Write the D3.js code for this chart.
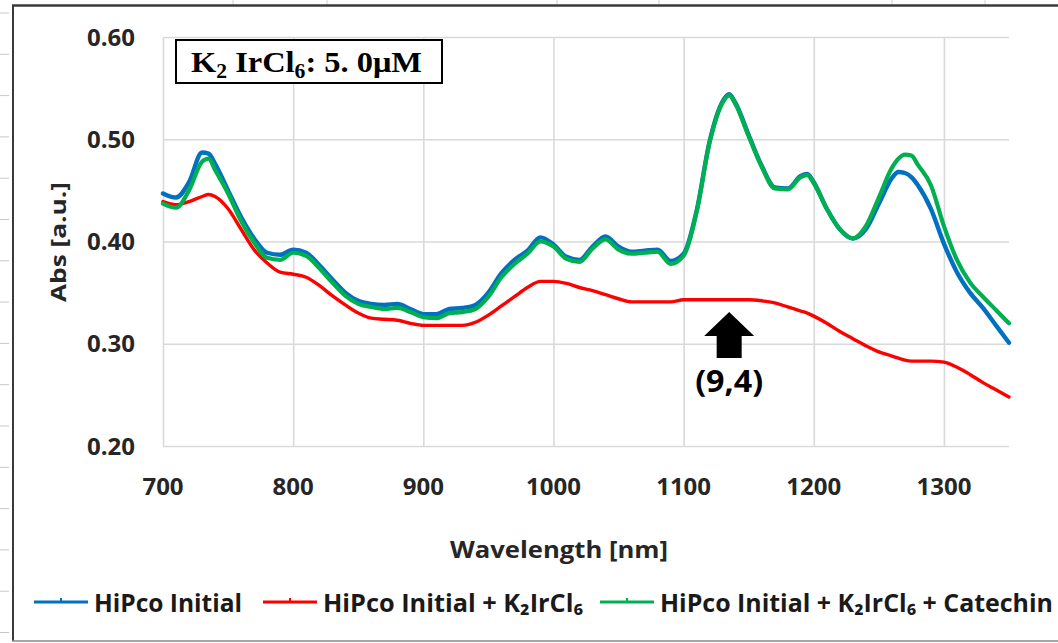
<!DOCTYPE html>
<html><head><meta charset="utf-8">
<script src="https://cdn.jsdelivr.net/npm/d3@7"></script>
<style>body{margin:0;background:#fff}svg{display:block}</style>
</head><body>
<svg id="c" width="1058" height="643"></svg>
<script>
const wavelength = [700,710,720,730,735,740,750,760,770,780,790,800,810,820,830,840,850,860,870,880,890,900,910,920,930,940,950,960,970,980,990,1000,1010,1020,1030,1040,1050,1060,1070,1080,1090,1100,1110,1120,1130,1135,1140,1150,1160,1170,1180,1190,1195,1200,1210,1220,1230,1240,1250,1260,1265,1270,1275,1280,1290,1300,1310,1320,1330,1340,1350];
const hipcoInitial = [0.447,0.443,0.458,0.487,0.486,0.476,0.450,0.424,0.403,0.389,0.387,0.392,0.389,0.377,0.363,0.350,0.342,0.339,0.338,0.339,0.334,0.329,0.329,0.334,0.335,0.338,0.350,0.369,0.382,0.391,0.404,0.397,0.385,0.382,0.395,0.405,0.395,0.390,0.391,0.392,0.381,0.388,0.430,0.498,0.537,0.544,0.535,0.504,0.474,0.453,0.452,0.464,0.466,0.458,0.432,0.412,0.403,0.412,0.437,0.462,0.468,0.467,0.463,0.455,0.432,0.398,0.370,0.350,0.335,0.318,0.301];
const hipcoK2IrCl6 = [0.439,0.436,0.439,0.444,0.446,0.444,0.432,0.412,0.392,0.379,0.370,0.368,0.365,0.357,0.347,0.338,0.330,0.325,0.324,0.323,0.320,0.318,0.318,0.318,0.318,0.321,0.328,0.337,0.346,0.355,0.361,0.361,0.359,0.355,0.352,0.348,0.344,0.341,0.341,0.341,0.341,0.343,0.343,0.343,0.343,0.343,0.343,0.343,0.342,0.340,0.336,0.332,0.330,0.327,0.320,0.312,0.305,0.298,0.292,0.288,0.286,0.284,0.283,0.283,0.283,0.282,0.277,0.270,0.262,0.255,0.248];
const hipcoCatechin = [0.437,0.433,0.450,0.478,0.481,0.470,0.447,0.420,0.399,0.384,0.382,0.389,0.386,0.374,0.360,0.347,0.339,0.336,0.334,0.335,0.331,0.326,0.325,0.330,0.331,0.334,0.346,0.365,0.378,0.388,0.400,0.395,0.383,0.380,0.393,0.402,0.392,0.388,0.389,0.390,0.378,0.386,0.429,0.497,0.536,0.543,0.534,0.503,0.473,0.452,0.451,0.463,0.465,0.457,0.432,0.412,0.403,0.415,0.443,0.472,0.481,0.485,0.484,0.475,0.455,0.415,0.382,0.360,0.346,0.333,0.320];
const xTicks = [700,800,900,1000,1100,1200,1300];
const yTicks = [0.20,0.30,0.40,0.50,0.60];
const seriesNames = ["HiPco Initial","HiPco Initial + K\u2082IrCl\u2086","HiPco Initial + K\u2082IrCl\u2086 + Catechin"];
const seriesColors = ["#0070C0","#FF0000","#00B050"];
const arrowAt = {w:1135, v:0.331, label:"(9,4)"};

const svg = d3.select("#c");
const x = d3.scaleLinear().domain([700,1350]).range([163,1009]);
const y = d3.scaleLinear().domain([0.2,0.6]).range([446,37]);
const sans = "'Open Sans', 'Liberation Sans', sans-serif";

// spreadsheet background decorations
[233,327,557,659,892,985].forEach(px=>svg.append("line").attr("x1",px).attr("x2",px).attr("y1",0).attr("y2",5).attr("stroke","#d0d0d0"));
for(let k=0;k<16;k++){const py=13+41.3*k; svg.append("line").attr("x1",0).attr("x2",9).attr("y1",py).attr("y2",py).attr("stroke","#c8c8c8");}
// chart frame
svg.append("line").attr("x1",12).attr("x2",1058).attr("y1",5.5).attr("y2",5.5).attr("stroke","#3a3a3a").attr("stroke-width",2.5);
svg.append("line").attr("x1",13).attr("x2",13).attr("y1",5).attr("y2",641).attr("stroke","#3a3a3a").attr("stroke-width",2);
svg.append("line").attr("x1",12).attr("x2",1058).attr("y1",641).attr("y2",641).attr("stroke","#8a8a8a").attr("stroke-width",1.5);

// gridlines via axes
const gx = svg.append("g").attr("transform",`translate(0,${y(0.2)})`)
  .call(d3.axisBottom(x).tickValues(xTicks).tickSize(-(y(0.2)-y(0.6))).tickFormat(""));
const gy = svg.append("g").attr("transform",`translate(${x(700)},0)`)
  .call(d3.axisLeft(y).tickValues(yTicks).tickSize(-(x(1350)-x(700))).tickFormat(""));
[gx,gy].forEach(g=>{g.select(".domain").remove(); g.selectAll(".tick line").attr("stroke","#d9d9d9").attr("stroke-width",1.6);});

// tick labels
svg.append("g").selectAll("text").data(xTicks).join("text")
  .attr("x",d=>x(d)).attr("y",495).attr("text-anchor","middle")
  .attr("font-family",sans).attr("font-weight","bold").attr("font-size",24).attr("fill","#262626")
  .text(d=>d);
svg.append("g").selectAll("text").data(yTicks).join("text")
  .attr("x",135).attr("y",d=>y(d)+8.5).attr("text-anchor","end")
  .attr("font-family",sans).attr("font-weight","bold").attr("font-size",24).attr("fill","#262626")
  .text(d=>d.toFixed(2));

// axis titles
svg.append("text").attr("x",559).attr("y",558).attr("text-anchor","middle")
  .attr("font-family",sans).attr("font-weight","bold").attr("font-size",23).attr("fill","#262626")
  .attr("textLength",218).attr("lengthAdjust","spacingAndGlyphs").text("Wavelength [nm]");
svg.append("text").attr("transform","translate(66,242) rotate(-90)").attr("text-anchor","middle")
  .attr("font-family",sans).attr("font-weight","bold").attr("font-size",21).attr("fill","#262626")
  .attr("textLength",120).attr("lengthAdjust","spacingAndGlyphs").text("Abs [a.u.]");

// series
const series = [hipcoInitial,hipcoK2IrCl6,hipcoCatechin];
const line = d3.line().x(d=>x(d[0])).y(d=>y(d[1])).curve(d3.curveMonotoneX);
const widths = [4.4,3.4,4.2];
series.forEach((vals,i)=>{
  svg.append("path").datum(wavelength.map((w,j)=>[w,vals[j]]))
    .attr("d",line).attr("fill","none").attr("stroke",seriesColors[i])
    .attr("stroke-width",widths[i]).attr("stroke-linejoin","round").attr("stroke-linecap","round");
});

// annotation box
svg.append("rect").attr("x",176).attr("y",40).attr("width",266).attr("height",43)
  .attr("fill","#fff").attr("stroke","#000").attr("stroke-width",2);
const t = svg.append("text").attr("x",191).attr("y",72)
  .attr("font-family","'Liberation Serif','DejaVu Serif',serif").attr("font-weight","bold").attr("font-size",30).attr("fill","#000")
  .attr("textLength",231).attr("lengthAdjust","spacingAndGlyphs");
t.append("tspan").text("K");
t.append("tspan").attr("font-size",20).attr("dy",6).text("2");
t.append("tspan").attr("dy",-6).text(" IrCl");
t.append("tspan").attr("font-size",20).attr("dy",6).text("6");
t.append("tspan").attr("dy",-6).text(": 5. 0\u03bcM");

// arrow annotation
const ax = x(arrowAt.w), ay = y(arrowAt.v);
svg.append("path").attr("d",`M${ax},${ay} L${ax+25},${ay+24} L${ax+12.5},${ay+24} L${ax+12.5},${ay+46} L${ax-12.5},${ay+46} L${ax-12.5},${ay+24} L${ax-25},${ay+24} Z`).attr("fill","#000");
svg.append("text").attr("x",ax).attr("y",ay+80).attr("text-anchor","middle")
  .attr("font-family",sans).attr("font-weight","bold").attr("font-size",30).attr("fill","#000")
  .attr("textLength",68).attr("lengthAdjust","spacingAndGlyphs").text(arrowAt.label);

// legend
const legX = [34,263,600], legW = [148,260,393];
seriesNames.forEach((n,i)=>{
  const g = svg.append("g");
  g.append("line").attr("x1",legX[i]).attr("x2",legX[i]+54).attr("y1",602).attr("y2",602).attr("stroke",seriesColors[i]).attr("stroke-width",3);
  g.append("line").attr("x1",legX[i]+27).attr("x2",legX[i]+27).attr("y1",598).attr("y2",602).attr("stroke",seriesColors[i]).attr("stroke-width",2);
  g.append("text").attr("x",legX[i]+60).attr("y",612).attr("font-family",sans).attr("font-weight","bold")
    .attr("font-size",25).attr("fill","#1a1a1a").attr("textLength",legW[i]).attr("lengthAdjust","spacingAndGlyphs").text(n);
});
</script>
</body></html>
